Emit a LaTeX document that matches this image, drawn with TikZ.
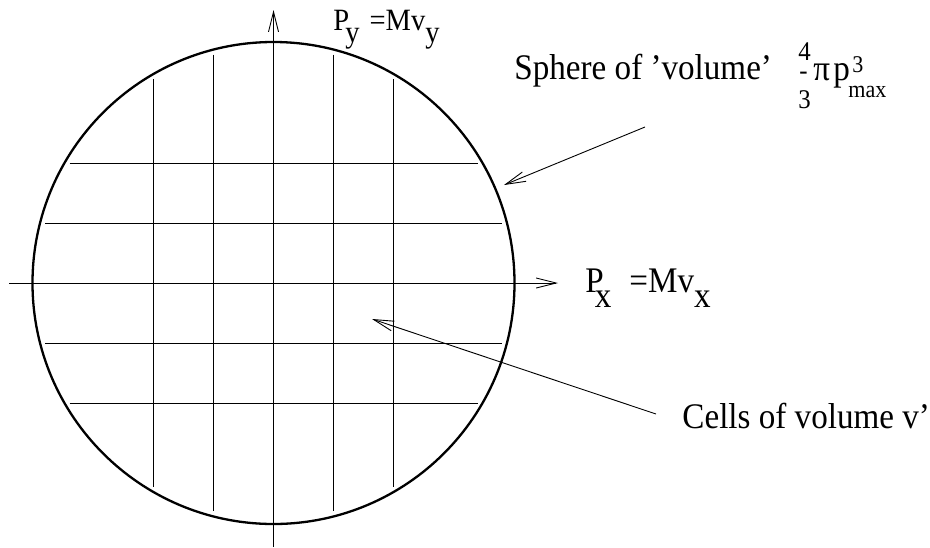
\documentclass[tikz,border=0pt]{standalone}
\usepackage{fontspec}
\setmainfont[FakeStretch=0.92]{Liberation Serif}
\usetikzlibrary{arrows.meta}
\tikzset{
  barb/.style={-{Straight Barb[length=20pt, width=10pt]}},
  lbl/.style={inner sep=0pt, anchor=base west, font=\fontsize{36}{42}\selectfont},
  small lbl/.style={lbl, font=\fontsize{24}{28}\selectfont},
}
\begin{document}
\begin{tikzpicture}[x=1pt, y=-1pt, line width=0.9pt]
  \def\cx{273.5}
  \def\cy{283}
  \def\R{241}
  \useasboundingbox (0,0) rectangle (930,547);
  % cells
  \foreach \d in {-120,-60,60,120} {
    \pgfmathsetmacro\h{100*sqrt(2.41*2.41-(\d/100)*(\d/100))-5}
    \draw (\cx+\d, \cy-\h) -- (\cx+\d, \cy+\h);
    \draw (\cx-\h, \cy+\d) -- (\cx+\h, \cy+\d);
  }
  \draw [line width=2.3pt] (\cx,\cy) circle [radius=\R pt];
  % axes
  \coordinate (px tail) at (9,\cy);
  \coordinate (px tip) at (558,\cy);
  \coordinate (py tail) at (\cx,547);
  \coordinate (py tip) at (\cx,10);
  \draw [barb] (px tail) -- (px tip);
  \draw [barb] (py tail) -- (py tip);
  \node [lbl] (px) at (585,292)
    {P\kern-9pt\raisebox{-15pt}{x}\kern18pt=Mv\raisebox{-15pt}{x}};
  \node [lbl, font=\fontsize{31}{36}\selectfont] (py) at (333,30)
    {P\kern-4pt\raisebox{-12pt}{y}\kern10pt=Mv\raisebox{-12pt}{y}};
  % sphere label
  \node [lbl] (sphere) at (514,79) {Sphere of 'volume'};
  \node [lbl, font=\fontsize{27}{32}\selectfont] (four) at (798,60) {4};
  \node [lbl, font=\fontsize{27}{32}\selectfont] (bar) at (799,79) {-};
  \node [lbl, font=\fontsize{27}{32}\selectfont] (three) at (798,108) {3};
  \node [lbl] (pi) at (813,80) {π};
  \node [lbl] (p) at (833,80) {p};
  \node [small lbl] (cube) at (852,72) {3};
  \node [small lbl] (max) at (848,97) {max};
  \coordinate (sphere tail) at (645,127);
  \coordinate (sphere tip) at (504,185);
  \draw [barb] (sphere tail) -- (sphere tip);
  % cells label
  \node [lbl] (cells) at (682,428) {Cells of volume v'};
  \coordinate (cells tail) at (656,414);
  \coordinate (cells tip) at (372,319);
  \draw [barb] (cells tail) -- (cells tip);
\end{tikzpicture}
\end{document}
